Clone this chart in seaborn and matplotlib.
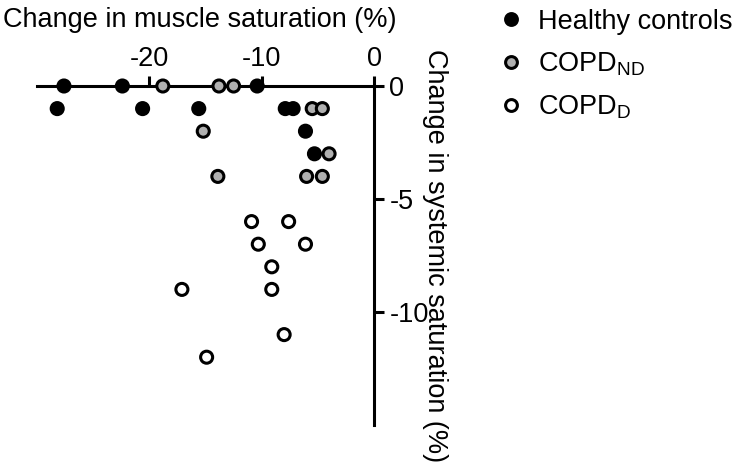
import numpy as np
import pandas as pd
import matplotlib
matplotlib.use("Agg")
import matplotlib.pyplot as plt
from matplotlib.lines import Line2D
import seaborn as sns

# values
healthy_x = [-27.6, -22.4, -10.4, -28.2, -20.6, -15.6, -7.9, -7.2, -6.1, -5.3]
healthy_y = [0, 0, 0, -1, -1, -1, -1, -1, -2, -3]
nd_x = [-18.8, -13.8, -12.5, -5.5, -4.6, -15.2, -4.0, -13.9, -6.0, -4.6]
nd_y = [0, 0, 0, -1, -1, -2, -3, -4, -4, -4]
d_x = [-10.9, -7.6, -10.3, -6.1, -9.1, -17.1, -9.1, -8.0, -14.9]
d_y = [-6, -6, -7, -7, -8, -9, -9, -11, -12]

groups = ["Healthy controls", "COPD_ND", "COPD_D"]
legend_labels = ["Healthy controls", r"COPD$_{\mathregular{ND}}$", r"COPD$_{\mathregular{D}}$"]
x_ticks = [-20, -10, 0]
y_ticks = [0, -5, -10]

df = pd.DataFrame({
    "muscle": healthy_x + nd_x + d_x,
    "systemic": healthy_y + nd_y + d_y,
    "group": [groups[0]] * len(healthy_x) + [groups[1]] * len(nd_x) + [groups[2]] * len(d_x),
})

sns.set_style("white")
plt.rcParams["font.family"] = ["Liberation Sans", "DejaVu Sans"]
plt.rcParams["mathtext.fontset"] = "custom"
plt.rcParams["mathtext.rm"] = "Liberation Sans"
plt.rcParams["mathtext.it"] = "Liberation Sans"
for key in ["text.color", "axes.labelcolor", "xtick.color", "ytick.color"]:
    plt.rcParams[key] = "black"

colors = {groups[0]: "black", groups[1]: "#b0b0b0", groups[2]: "white"}
fs = 19.5
lw = 2.2

fig = plt.figure(figsize=(7.55, 4.71), dpi=100)
ax = fig.add_axes([37 / 755, 46 / 471, 337 / 755, 339 / 471])

sns.scatterplot(data=df, x="muscle", y="systemic", hue="group", palette=colors,
                edgecolor="black", linewidth=2.2, s=75, clip_on=False, zorder=3,
                legend=False, ax=ax)

ax.set_xlim(-30, 0)
ax.set_ylim(-15, 0)

for side in ["bottom", "left"]:
    ax.spines[side].set_visible(False)
for side in ["top", "right"]:
    ax.spines[side].set_linewidth(lw)
    ax.spines[side].set_color("black")

ax.xaxis.tick_top()
ax.yaxis.tick_right()
ax.set_xticks(x_ticks)
ax.set_yticks(y_ticks)
ax.set_xticklabels([str(t) for t in x_ticks])
ax.set_yticklabels([str(t) for t in y_ticks])
ax.tick_params(axis="both", direction="out", length=7, width=lw, labelsize=fs,
               color="black", labelcolor="black")
ax.tick_params(axis="y", pad=4)
ax.tick_params(axis="x", pad=3)

ax.xaxis.set_label_position("top")
ax.set_xlabel("Change in muscle saturation (%)", fontsize=fs)
ax.xaxis.set_label_coords(0.484, 1.174)
ax.yaxis.set_label_position("right")
ax.set_ylabel("Change in systemic saturation (%)", fontsize=fs, rotation=-90)
ax.yaxis.label.set_verticalalignment("center")
ax.yaxis.label.set_horizontalalignment("center")
ax.yaxis.set_label_coords(1.18, 0.5)

handles = [Line2D([], [], linestyle="none", marker="o", markersize=8.5,
                  markerfacecolor=colors[g], markeredgecolor="black", markeredgewidth=2.2)
           for g in groups]
fig.legend(handles, legend_labels, loc="upper left", bbox_to_anchor=(495 / 755, 1 - 6 / 471),
           frameon=False, fontsize=fs, handlelength=1.0, handletextpad=0.5,
           borderaxespad=0, borderpad=0.1, labelspacing=0.58)

fig.savefig("out.png", dpi=100)
